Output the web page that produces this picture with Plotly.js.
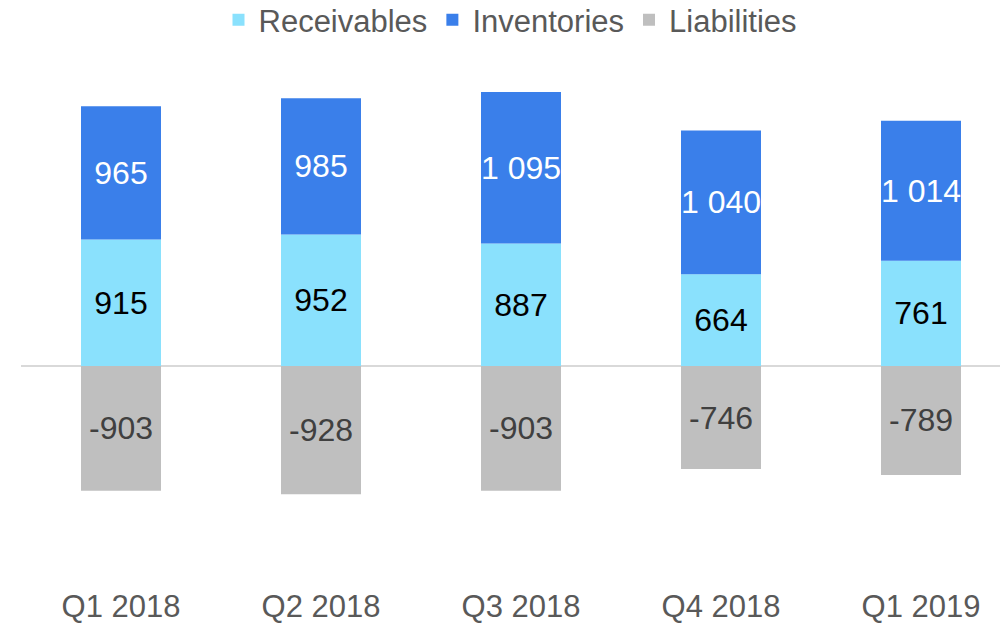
<!DOCTYPE html>
<html>
<head>
<meta charset="utf-8">
<script src="https://cdn.plot.ly/plotly-3.0.1.min.js"></script>
<style>
html,body{margin:0;padding:0;background:#fff;}
#chart{width:1000px;height:625px;}
</style>
</head>
<body>
<div id="chart"></div>
<script>
const categories = ["Q1 2018", "Q2 2018", "Q3 2018", "Q4 2018", "Q1 2019"];
const receivables = [915, 952, 887, 664, 761];
const inventories = [965, 985, 1095, 1040, 1014];
const liabilities = [-903, -928, -903, -746, -789];

function fmt(v) {
  const s = String(Math.abs(v)).replace(/\B(?=(\d{3})+(?!\d))/g, " ");
  return (v < 0 ? "-" : "") + s;
}

const font = "Liberation Sans, Arial, sans-serif";
const common = {
  type: "bar",
  x: categories,
  textposition: "inside",
  insidetextanchor: "middle",
  constraintext: "none",
  textangle: 0,
  hoverinfo: "skip"
};

const traces = [
  Object.assign({}, common, {
    name: "Receivables",
    y: receivables,
    text: receivables.map(fmt),
    marker: {color: "#8AE1FD"},
    insidetextfont: {family: font, size: 32, color: "#000000"}
  }),
  Object.assign({}, common, {
    name: "Inventories",
    y: inventories,
    text: inventories.map(fmt),
    marker: {color: "#3A7FEA"},
    insidetextfont: {family: font, size: 32, color: "#ffffff"}
  }),
  Object.assign({}, common, {
    name: "Liabilities",
    y: liabilities,
    text: liabilities.map(fmt),
    marker: {color: "#BFBFBF"},
    insidetextfont: {family: font, size: 32, color: "#404040"}
  })
];

const layout = {
  width: 1000,
  height: 625,
  barmode: "relative",
  bargap: 0.6,
  paper_bgcolor: "#ffffff",
  plot_bgcolor: "#ffffff",
  margin: {l: 21, r: 0, t: 60, b: 40, autoexpand: false},
  font: {family: font, color: "#595959"},
  showlegend: true,
  legend: {
    orientation: "h",
    x: 0.5, xanchor: "center",
    y: 1.076, yanchor: "middle",
    font: {family: font, size: 31, color: "#595959"},
    itemwidth: 30,
    traceorder: "normal"
  },
  xaxis: {
    range: [-0.5, 4.395],
    showgrid: false,
    showline: false,
    zeroline: false,
    ticks: "",
    tickfont: {family: font, size: 31, color: "#595959"},
    fixedrange: true
  },
  yaxis: {
    range: [-1585, 2214],
    showgrid: false,
    showline: false,
    showticklabels: false,
    ticks: "",
    zeroline: true,
    zerolinecolor: "#D9D9D9",
    zerolinewidth: 1.5,
    fixedrange: true
  }
};

Plotly.newPlot("chart", traces, layout, {displayModeBar: false, staticPlot: true});
</script>
</body>
</html>
